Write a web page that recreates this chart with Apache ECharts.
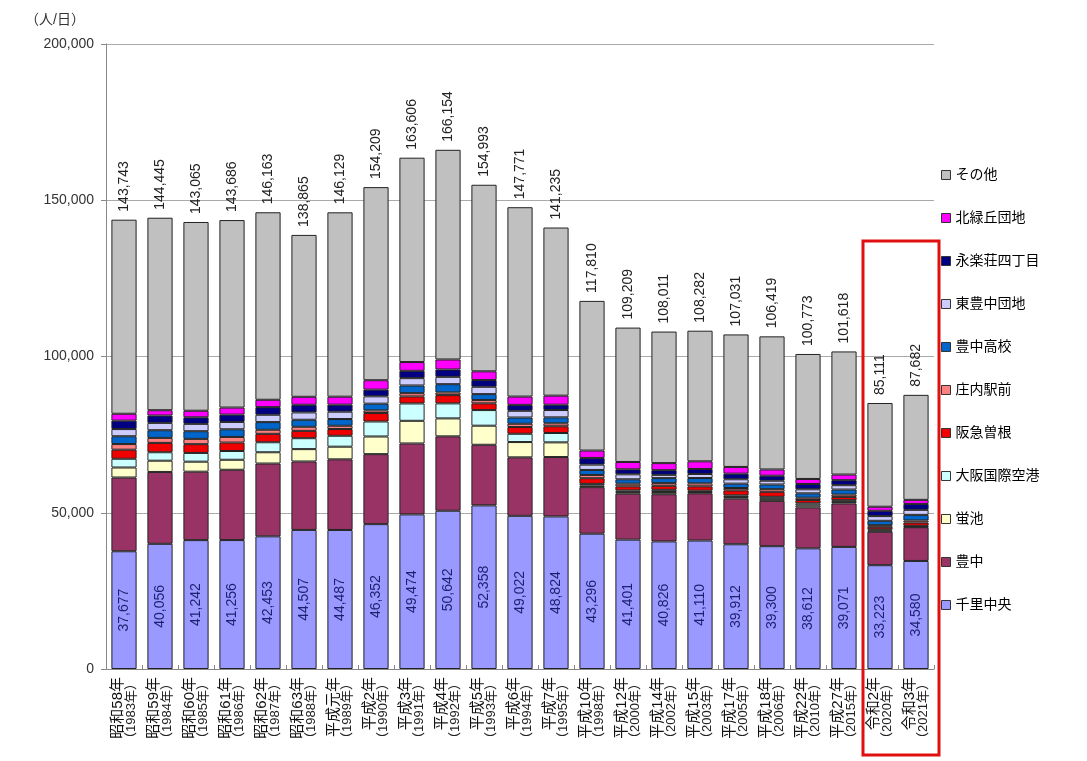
<!DOCTYPE html>
<html><head><meta charset="utf-8">
<script src="https://cdn.jsdelivr.net/npm/echarts@6/dist/echarts.min.js"></script>
<style>html,body{margin:0;padding:0;background:#fff}#c{width:1087px;height:761px}</style>
</head><body><div id="c"></div>
<script>
const eras = ['昭和58年','昭和59年','昭和60年','昭和61年','昭和62年','昭和63年','平成元年','平成2年','平成3年','平成4年','平成5年','平成6年','平成7年','平成10年','平成12年','平成14年','平成15年','平成17年','平成18年','平成22年','平成27年','令和2年','令和3年'];
const years = ['1983','1984','1985','1986','1987','1988','1989','1990','1991','1992','1993','1994','1995','1998','2000','2002','2003','2005','2006','2010','2015','2020','2021'];
const totals = [143743,144445,143065,143686,146163,138865,146129,154209,163606,166154,154993,147771,141235,117810,109209,108011,108282,107031,106419,100773,101618,85111,87682];
const senri = [37677,40056,41242,41256,42453,44507,44487,46352,49474,50642,52358,49022,48824,43296,41401,40826,41110,39912,39300,38612,39071,33223,34580];
const toyonaka = [23600,23000,21900,22500,23300,21900,22600,22400,22700,23800,19400,18700,19000,14900,14700,15100,15100,14600,14500,13100,13900,10700,10800];
const hotarugaike = [3200,3600,3200,3200,3600,3950,4050,5650,7250,5750,6100,4900,4700,500,500,700,400,500,650,650,500,400,200];
const airport = [2800,2700,2800,2800,3200,3500,3500,4800,5550,4800,5000,2650,3000,550,550,700,450,550,650,650,550,350,250];
const sone = [2900,3000,2800,2700,2700,2350,2150,2700,2250,2650,2150,2150,2150,1800,1300,1300,1400,1600,1600,1050,1050,850,1050];
const shonai = [1800,1600,1700,1800,1300,1300,1050,850,1050,850,1050,1050,950,1050,850,850,950,750,850,750,750,500,650];
const koko = [2500,2450,2450,2450,2450,2250,2150,2150,2450,2650,1900,2000,1900,1600,1400,1600,1700,1400,1500,1400,1600,1400,1800];
const higashi = [2300,2350,2350,2350,2350,2350,2350,2350,2350,2350,2350,2150,2350,1700,1600,1050,1300,1400,1200,1300,1400,1500,1600];
const eiraku = [2700,2350,2100,2350,2450,2450,2250,2150,2350,2350,2150,1900,1700,2150,1600,1500,1600,1800,1600,1700,1600,1700,1900];
const kitamidori = [2200,1700,2100,2250,2350,2550,2550,3000,2800,3200,2800,2650,2900,2350,2350,2250,2450,2150,2000,1600,1800,1300,1300];
const other = [62100,61600,60400,60000,60000,51800,59000,61800,65400,67100,59700,60600,53800,47900,43000,42100,41800,42400,42600,40000,39400,33200,33600];
const yTicks = [0,50000,100000,150000,200000];

const names = ['千里中央','豊中','蛍池','大阪国際空港','阪急曽根','庄内駅前','豊中高校','東豊中団地','永楽荘四丁目','北緑丘団地','その他'];
const values = [senri,toyonaka,hotarugaike,airport,sone,shonai,koko,higashi,eiraku,kitamidori,other];
const colors = ['#9999FF','#993366','#FFFFCC','#CCFFFF','#F00000','#FF8080','#0066CC','#CCCCFF','#000080','#FF00FF','#C0C0C0'];
const FONT = '"Liberation Sans", "Noto Sans CJK JP", sans-serif';
const fmt = v => v.toLocaleString('en-US');

const series = names.map((n,i)=>{
  const s = {
    name:n, type:'bar', stack:'t', data:values[i], barWidth:'70%',
    itemStyle:{color:colors[i], borderColor:'#222', borderWidth:1},
    emphasis:{disabled:true}
  };
  if(i===0){
    s.label={show:true, position:'inside', rotate:90, formatter:p=>fmt(p.value), color:'#1F1F70', fontSize:14, fontFamily:FONT};
  }
  if(i===names.length-1){
    s.label={show:true, position:'top', rotate:90, align:'left', verticalAlign:'middle', distance:8,
      formatter:p=>fmt(totals[p.dataIndex]), color:'#222', fontSize:14, fontFamily:FONT};
  }
  return s;
});

const chart = echarts.init(document.getElementById('c'));
chart.setOption({
  animation:false,
  backgroundColor:'#fff',
  textStyle:{fontFamily:FONT},
  title:{text:'（人/日）', left:20, top:8, textStyle:{fontSize:14, fontWeight:'normal', color:'#333', fontFamily:FONT}},
  grid:{left:106, right:153, top:44, bottom:92},
  legend:{
    orient:'vertical', left:936, top:163, itemWidth:9, itemHeight:9, itemGap:29,
    data:names.slice().reverse(),
    icon:'rect',
    itemStyle:{borderColor:'#333', borderWidth:1},
    textStyle:{fontSize:14, color:'#000', fontFamily:FONT}
  },
  xAxis:{
    type:'category', data:eras.map((e,i)=>e+'\n（'+years[i]+'年）'),
    axisLine:{lineStyle:{color:'#888'}},
    axisTick:{show:true, inside:true, length:4, lineStyle:{color:'#888'}},
    axisLabel:{
      interval:0, rotate:90, margin:8,
      formatter:(v)=>{const p=v.split('\n'); return '{a|'+p[0]+'}\n{b|'+p[1]+'}';},
      rich:{
        a:{fontSize:15, color:'#111', fontFamily:FONT, lineHeight:15},
        b:{fontSize:13, color:'#222', fontFamily:FONT, lineHeight:13}
      }
    }
  },
  yAxis:{
    type:'value', min:yTicks[0], max:yTicks[yTicks.length-1], interval:50000,
    axisLine:{show:true, lineStyle:{color:'#888'}},
    axisTick:{show:true, length:5, lineStyle:{color:'#888'}},
    splitLine:{lineStyle:{color:'#AAAAAA'}},
    axisLabel:{formatter:v=>fmt(v), fontSize:14, color:'#333', fontFamily:FONT, margin:12}
  },
  series:series
});

const a = chart.convertToPixel({seriesIndex:0}, [eras.length-2, 137000]);
const b = chart.convertToPixel({seriesIndex:0}, [eras.length-1, 0]);
chart.setOption({graphic:[{
  type:'rect', shape:{x:a[0]-17, y:a[1], width:(b[0]-a[0])+40, height:755-a[1]},
  style:{fill:'none', stroke:'#E01010', lineWidth:3}, z:100
}]});
</script></body></html>
